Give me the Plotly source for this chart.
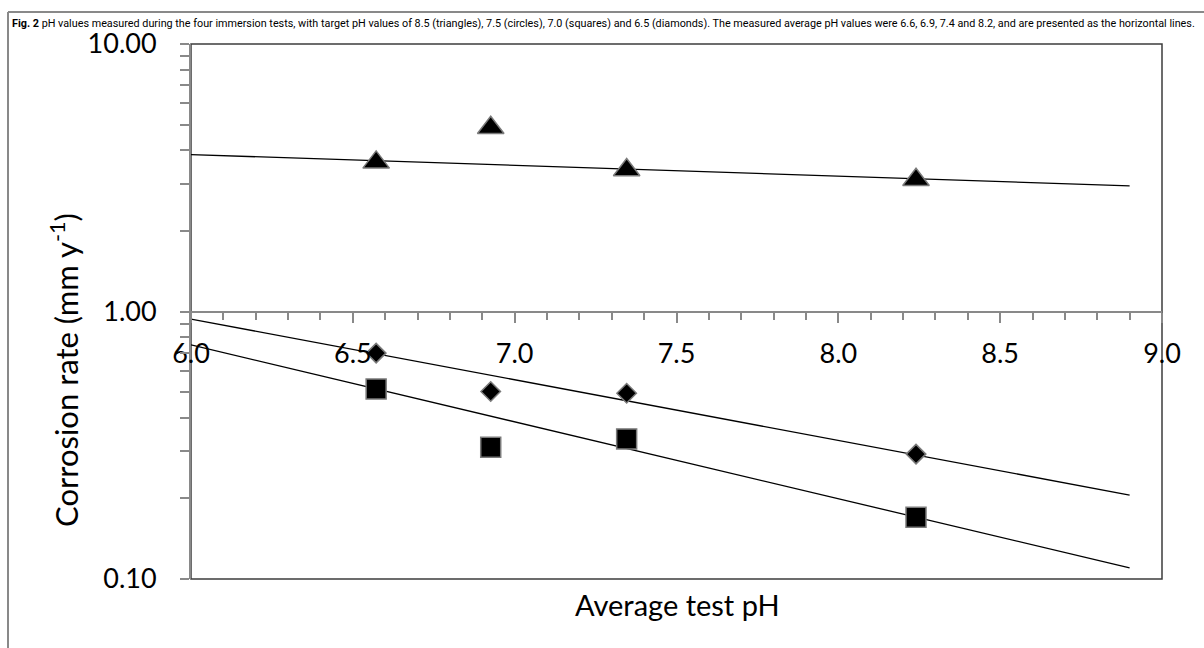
import plotly.graph_objects as go

# ---- data ----
ph_avg = [6.572, 6.926, 7.346, 8.240]
rate_triangles = [3.61, 4.86, 3.38, 3.11]   # target pH 8.5
rate_diamonds = [0.699, 0.502, 0.495, 0.293]  # target pH 6.5
rate_squares = [0.513, 0.311, 0.334, 0.170]   # target pH 7.0

trend_x = [6.0, 8.9]
trend_triangles = [3.86, 2.95]
trend_diamonds = [0.937, 0.206]
trend_squares = [0.75, 0.110]

y_tickvals = [0.1, 0.2, 0.3, 0.4, 0.5, 0.6, 0.7, 0.8, 0.9,
              1, 2, 3, 4, 5, 6, 7, 8, 9, 10]
y_ticktext = ["0.10"] + [""] * 8 + ["1.00"] + [""] * 8 + ["10.00"]

title_text = ("<b>Fig. 2</b> pH values measured during the four immersion tests, with target pH values of "
              "8.5 (triangles), 7.5 (circles), 7.0 (squares) and 6.5 (diamonds). The measured average pH "
              "values were 6.6, 6.9, 7.4 and 8.2, and are presented as the horizontal lines.")

FONT = "Lato, 'Open Sans', sans-serif"
AXIS_GREY = "#898989"

fig = go.Figure()

line_style = dict(color="black", width=1.3)
for ty in (trend_triangles, trend_diamonds, trend_squares):
    fig.add_trace(go.Scatter(x=trend_x, y=ty, mode="lines", line=line_style,
                             hoverinfo="skip", showlegend=False))

mk_line = dict(color="#7a7a7a", width=1.5)
fig.add_trace(go.Scatter(x=ph_avg, y=rate_triangles, mode="markers", showlegend=False,
                         marker=dict(symbol="triangle-up", size=23, color="black", line=mk_line)))
fig.add_trace(go.Scatter(x=ph_avg, y=rate_diamonds, mode="markers", showlegend=False,
                         marker=dict(symbol="diamond", size=15, color="black", line=mk_line)))
fig.add_trace(go.Scatter(x=ph_avg, y=rate_squares, mode="markers", showlegend=False,
                         marker=dict(symbol="square", size=20, color="black", line=mk_line)))

L, R, T, B = 191, 42, 44, 69
W, H = 1204, 648
pw, ph = W - L - R, H - T - B


def px(xp):
    return (xp - L) / pw


def py(yp):
    return (H - B - yp) / ph


fig.update_layout(
    width=W, height=H,
    margin=dict(l=L, r=R, t=T, b=B, pad=0),
    paper_bgcolor="white", plot_bgcolor="white",
    font=dict(family=FONT, color="black", size=26),
    xaxis=dict(
        range=[6, 9], anchor="free", position=0.5,
        showline=True, linecolor=AXIS_GREY, linewidth=2,
        showgrid=False, zeroline=False,
        ticks="outside", ticklen=10, tickwidth=1.5, tickcolor=AXIS_GREY,
        dtick=0.5, tick0=6, tickformat=".1f",
        ticklabelstandoff=8,
        tickfont=dict(size=27, family=FONT),
        minor=dict(ticks="outside", dtick=0.1, ticklen=7, tickwidth=1.5, tickcolor=AXIS_GREY),
    ),
    yaxis=dict(
        type="log", range=[-1, 1],
        showline=True, linecolor=AXIS_GREY, linewidth=2,
        showgrid=False, zeroline=False,
        ticks="outside", ticklen=9, tickwidth=1.5, tickcolor=AXIS_GREY,
        tickmode="array", tickvals=y_tickvals, ticktext=y_ticktext,
        ticklabelstandoff=18,
        tickfont=dict(size=27, family=FONT),
    ),
    shapes=[
        dict(type="rect", xref="paper", yref="paper", x0=0, x1=1, y0=0, y1=1,
             line=dict(color="#3c3c3c", width=1.5), layer="below"),
        dict(type="line", xref="paper", yref="paper", x0=px(8), x1=px(8), y0=py(12), y1=py(720),
             line=dict(color=AXIS_GREY, width=2)),
        dict(type="line", xref="paper", yref="paper", x0=px(8), x1=px(1300), y0=py(12), y1=py(12),
             line=dict(color=AXIS_GREY, width=2)),
    ],
    annotations=[
        dict(text=title_text, xref="paper", yref="paper", x=px(10), y=py(24),
             xanchor="left", yanchor="middle", showarrow=False,
             font=dict(family="Roboto, 'Liberation Sans', sans-serif",
                       size=10.8, color="black")),
        dict(text="Corrosion rate (mm y<sup>-1</sup>)", xref="paper", yref="paper",
             x=px(64), y=py(370), textangle=-90, xanchor="center", yanchor="middle",
             showarrow=False, font=dict(family=FONT, size=31, color="black")),
        dict(text="Average test pH", xref="paper", yref="paper",
             x=px(677), y=py(604), xanchor="center", yanchor="middle",
             showarrow=False, font=dict(family=FONT, size=29, color="black")),
    ],
)

fig.write_html("out.html")
